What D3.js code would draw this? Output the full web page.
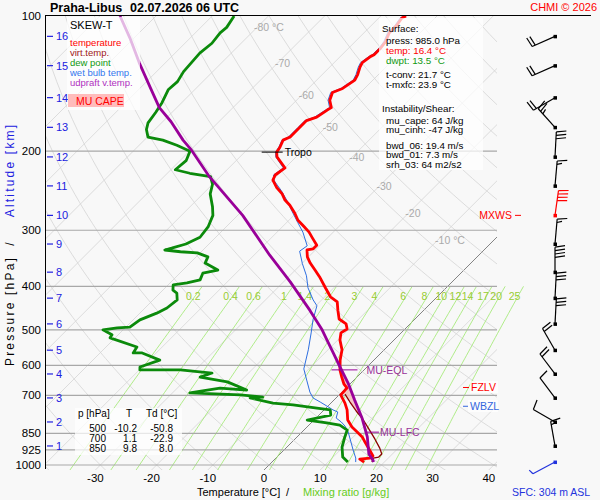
<!doctype html>
<html lang="en">
<head>
  <meta charset="utf-8">
  <title>Praha-Libus skew-T</title>
  <style>
    body { margin: 0; background: #f8f8f8; }
    svg { font-family: "Liberation Sans", Arial, sans-serif; display: block; }
  </style>
</head>
<body>
  <div id="chart"></div>
  <script src="https://cdn.jsdelivr.net/npm/d3@7"></script>
  <script>
// sounding: pressure [hPa] / temperature [C]
var tempP = [985,970,965,955,912,889,866,844,823,794,754,728,709,698,681,674,660,637,614,584,
  554,527,508,498,493,485,473,452,433,422,403,383,368,355,344,332,330,324,312,303,
  294,285,275,264,257,249,241,232,226,218,206,201,196,189,186,177,171,168,162,160,
  154,148,145,139,135,130,127,123,122,118,114,109,105,101,100];
var tempT = [16.4,15.1,16.7,16.9,14.4,13.0,11.6,9.8,8.0,6.0,4.1,2.5,1.1,0.3,0.2,0.2,-1.1,-2.7,-4.3,-6.0,
  -7.5,-9.6,-10.7,-10.3,-10.7,-11.4,-13.5,-15.3,-16.9,-19.0,-21.5,-24.2,-26.5,-28.6,-30.2,-31.5,-30.6,-30.6,-32.7,-34.3,
  -36.3,-38.4,-40.2,-42.5,-44.3,-45.9,-48.0,-50.0,-50.5,-50.0,-53.4,-54.3,-54.6,-55.3,-54.6,-54.6,-54.6,-53.4,-52.8,-52.5,
  -54.1,-55.0,-53.9,-53.2,-53.7,-54.6,-55.0,-54.6,-54.3,-54.3,-54.6,-55.5,-55.5,-55.9,-55.5];

var wbP = [985,965,926,889,844,819,802,786,762,754,739,724,709,688,647,611,554,508,475,442,
  429,403,379,356,334,325,303,288,273,257,245,233,226,218,206,201,196,189,186,177,
  171,168,162,160,154,148,145,139,135,130,127,123,122,118,114,109,105,101,100];
var wbT = [14.9,14.2,12.3,10.5,8.2,6.6,5.2,3.6,2.8,1.6,-0.2,-2.1,-4.1,-5.7,-8.4,-10.9,-13.5,-16.0,-18.0,-19.8,
  -21.5,-24.6,-27.0,-29.9,-32.6,-32.2,-35.4,-38.1,-40.9,-44.0,-46.6,-49.6,-50.8,-50.3,-53.6,-54.5,-54.8,-55.5,-54.9,-54.9,
  -54.9,-53.8,-53.1,-52.8,-54.4,-55.3,-54.2,-53.5,-54.0,-54.9,-55.3,-54.9,-54.6,-54.6,-54.9,-55.8,-55.8,-56.2,-55.8];

var dewP = [100,106,109,115,121,127,133,140,146,156,164,173,179,186,189,194,200,210,220,224,
  228,237,249,266,278,295,311,322,329,332,335,337,344,355,368,374,387,393,397,408,
  414,429,447,459,475,493,495,500,513,521,546,563,563,584,605,614,614,624,637,653,
  681,674,691,698,706,709,728,735,747,754,774,794,806,815,836,866,912,960,985];
var dewT = [-86.1,-85.4,-85.6,-85.2,-85.6,-85.4,-85.2,-84.5,-84.7,-83.5,-82.9,-82.4,-81.5,-79.9,-76.7,-73.3,-69.9,-68.9,-69.2,-66.0,
  -61.7,-60.0,-58.7,-56.0,-54.4,-53.2,-52.8,-54.1,-55.9,-56.8,-53.7,-50.5,-47.9,-47.3,-43.8,-45.9,-45.2,-47.0,-49.1,-48.2,
  -47.0,-45.7,-46.1,-47.0,-48.8,-49.3,-51.4,-53.6,-51.1,-50.9,-44.5,-44.1,-42.5,-38.1,-40.4,-39.9,-32.7,-26.5,-27.9,-22.2,
  -17.3,-22.4,-26.9,-17.6,-13.2,-15.3,-10.3,-6.4,-1.6,1.1,2.1,-1.2,2.8,5.5,7.7,8.5,9.8,11.7,13.5];

var virtP = [985,965,960,945,917,875,832,790,758,724,695];
var virtT = [17.8,17.3,18.1,18.1,16.7,14.2,11.4,8.5,5.9,3.2,0.9];

var parcelP = [985,975,945,866,786,717,657,605,563,527,500,452,391,341,278,228,199,189,172,160,144,127,112,100];
var parcelT = [18.1,17.6,15.8,12.5,8.2,3.7,-0.5,-4.8,-8.5,-11.9,-14.6,-20.3,-28.8,-37.2,-49.1,-61.9,-69.8,-73.1,-78.5,-83.1,-88.4,-94.7,-100.7,-106.4];

// axes
var pTicks = [100,200,300,400,500,600,700,850,925,1000];
var tTicks = [-30,-20,-10,0,10,20,30,40];
var isoLabelT = [-80,-70,-60,-50,-40,-30,-20,-10];
var isoLabelP = [106,127,150,177,206,239,275,315];
var mixRatios = [0.2,0.4,0.6,1,1.4,2,3,4,6,8,10,12,14,17,20,25];
var kmLabels = [1,2,3,4,5,6,7,8,9,10,11,12,13,14,15,16];
var kmP = [907,802,709,627,555,485,425,372,322,278,239,206,177,152,129,111];

// wind (SFC then each km), direction [deg], speed [kt]
var windP = [985,907,802,709,627,555,485,425,372,322,278,239,206,177,152,129,111];
var windDir = [242,350,300,323,323,330,3,3,0,5,8,5,3,318,240,246,246];
var windSpd = [5,15,10,10,20,20,30,30,40,15,40,15,30,25,20,20,20];
var mxwsIndex = 10;

// levels and summary values
var tropoP = 201, eqlP = 614, lfcP = 845, fzlvP = 672, wbzlP = 740;
var tableP = [500,700,850], tableT = [-10.2,1.1,9.8], tableTd = [-50.8,-22.9,8.0];
var surfLines = [
  ["Surface:", "#000", 0], ["press: 985.0 hPa", "#000", 1], ["temp: 16.4 °C", "#ff0000", 1],
  ["dwpt: 13.5 °C", "#119911", 1], ["t-conv: 21.7 °C", "#000", 1], ["t-mxfc: 23.9 °C", "#000", 1],
  ["Instability/Shear:", "#000", 0], ["mu_cape: 64 J/kg", "#000", 1], ["mu_cinh: -47 J/kg", "#000", 1],
  ["bwd_06: 19.4 m/s", "#000", 1], ["bwd_01: 7.3 m/s", "#000", 1], ["srh_03: 64 m2/s2", "#000", 1]];
var surfLineY = [31.5,43.5,53.5,63.5,77.5,87.5,111.5,123.5,133,148.5,158,167.8];
var legendNames = ["temperature","virt.temp.","dew point","wet bulb temp.","udpraft v.temp."];
var legendColors = ["#ff0000","#a01818","#119911","#3377ee","#b030c0"];

(function(){
  var width = 600, height = 500;
  var pBot = 1026;

  var y = d3.scaleLog().domain([pBot, 100]).range([470, 16]);
  var xT = d3.scaleLinear().domain([0, 10]).range([264, 320.2]);
  function sx(t, p) { return xT(t) + (470 - y(p)); }

  function interp(P, T, p) {
    for (var i = 0; i < P.length - 1; i++) {
      var a = P[i], b = P[i + 1];
      if ((p <= a && p >= b) || (p >= a && p <= b)) {
        if (a == b) return T[i];
        var f = Math.log(a / p) / Math.log(a / b);
        return T[i] + f * (T[i + 1] - T[i]);
      }
    }
    return NaN;
  }
  function mixTd(w, p) {
    var e = w * p / (622 + w), l = Math.log(e / 6.112);
    return 243.5 * l / (17.67 - l);
  }

  var svg = d3.select("#chart").append("svg")
      .attr("width", width).attr("height", height);
  svg.append("rect").attr("width", width).attr("height", height).attr("fill", "#f8f8f8");

  var defs = svg.append("defs");
  defs.append("clipPath").attr("id", "plotClip").append("rect")
      .attr("x", 45).attr("y", 15).attr("width", 452).attr("height", 455);
  defs.append("clipPath").attr("id", "mixClip").append("rect")
      .attr("x", 45).attr("y", 15).attr("width", 500).attr("height", 455);

  var line = d3.line().x(function(d){ return sx(d[1], d[0]); }).y(function(d){ return y(d[0]); });
  function zip(P, T) { return P.map(function(p, i){ return [p, T[i]]; }); }

  // grid: isotherms and dry adiabats
  var grid = svg.append("g").attr("clip-path", "url(#plotClip)");
  d3.range(-170, 50, 10).forEach(function(t){
    grid.append("line")
        .attr("x1", sx(t, pBot)).attr("y1", y(pBot))
        .attr("x2", sx(t, 98)).attr("y2", y(98))
        .attr("stroke", t === 0 ? "#666" : "#d4d4d4")
        .attr("stroke-width", 0.8);
  });
  var adiaP = d3.range(1030, 95, -10);
  d3.range(-60, 220, 10).forEach(function(t0){
    var pts = adiaP.map(function(p){ return [p, (t0 + 273.15) * Math.pow(p / 1000, 0.2857) - 273.15]; });
    grid.append("path").attr("d", line(pts))
        .attr("fill", "none").attr("stroke", "#d4d4d4").attr("stroke-width", 0.8);
  });

  // mixing ratio lines
  var mix = svg.append("g").attr("clip-path", "url(#mixClip)");
  var mixP = d3.range(1030, 399, -10).concat([400]);
  mixRatios.forEach(function(w){
    var pts = mixP.map(function(p){ return [p, mixTd(w, p)]; });
    mix.append("path").attr("d", line(pts))
        .attr("fill", "none").attr("stroke", "#9de86c").attr("stroke-width", 0.8);
    svg.append("text")
        .attr("x", sx(mixTd(w, 400), 400) - 9).attr("y", y(400) + 13.5)
        .attr("text-anchor", "middle").attr("font-size", "10.5px").attr("fill", "#99cc33")
        .text(String(w));
  });

  // isobars
  pTicks.forEach(function(p){
    if (p === 100) return;
    svg.append("line").attr("x1", 45).attr("x2", 497).attr("y1", y(p)).attr("y2", y(p))
        .attr("stroke", "#a8a8a8").attr("stroke-width", 1.2);
  });

  // isotherm labels
  isoLabelT.forEach(function(t, i){
    var p = isoLabelP[i];
    svg.append("text").attr("x", sx(t, p) - 3).attr("y", y(p) + 4)
        .attr("font-size", "10.5px").attr("fill", "#aaaaaa")
        .text(t + ((t === -80 || t === -10) ? " °C" : ""));
  });

  // CAPE area between parcel and environmental virtual temperature
  function envT(p) { return p >= 695 ? interp(virtP, virtT, p) : interp(tempP, tempT, p); }
  var capeP = d3.range(lfcP - 70, eqlP - 10, -1);
  var area = d3.area()
      .y(function(p){ return y(p); })
      .x0(function(p){ return sx(envT(p), p); })
      .x1(function(p){ return sx(Math.max(envT(p), interp(parcelP, parcelT, p)), p); });
  svg.append("path").attr("d", area(capeP)).attr("fill", "#f6bcbc").attr("opacity", 0.85);

  // profiles
  var prof = svg.append("g").attr("clip-path", "url(#plotClip)").attr("fill", "none")
      .attr("stroke-linejoin", "round");
  prof.append("path").attr("d", line(zip(wbP, wbT))).attr("stroke", "#2e6fe0").attr("stroke-width", 1);
  prof.append("path").attr("d", line(zip(dewP, dewT))).attr("stroke", "#0b8a0b").attr("stroke-width", 2.8);
  prof.append("path").attr("d", line(zip(virtP, virtT))).attr("stroke", "#8b0000").attr("stroke-width", 1.3);
  prof.append("path").attr("d", line(zip(tempP, tempT))).attr("stroke", "#ff0000").attr("stroke-width", 2.8);
  prof.append("path").attr("d", line(zip(parcelP, parcelT))).attr("stroke", "#990099").attr("stroke-width", 2.8);

  // frame
  svg.append("line").attr("x1", 45).attr("x2", 591).attr("y1", 15.5).attr("y2", 15.5).attr("stroke", "#000");
  svg.append("line").attr("x1", 45.5).attr("x2", 45.5).attr("y1", 15).attr("y2", 469).attr("stroke", "#000");

  // semi-transparent boxes
  function box(x, yy, w, h) {
    svg.append("rect").attr("x", x).attr("y", yy).attr("width", w).attr("height", h)
        .attr("fill", "#fff").attr("opacity", 0.72);
  }
  box(67, 17, 73, 93);
  box(379, 18, 104, 152);
  box(75, 408, 107, 47);
  box(470, 381, 28, 12);
  box(468, 400, 30, 12);

  // pressure axis
  pTicks.forEach(function(p){
    svg.append("text").attr("x", 41).attr("y", y(p) + 4).attr("text-anchor", "end")
        .attr("font-size", "11.5px").attr("fill", "#000").text(p);
  });
  kmLabels.forEach(function(k, i){
    var yy = y(kmP[i]);
    svg.append("line").attr("x1", 47).attr("x2", 53).attr("y1", yy).attr("y2", yy)
        .attr("stroke", "#2020e0").attr("stroke-width", 1.2);
    svg.append("text").attr("x", 56).attr("y", yy + 4).attr("font-size", "11px")
        .attr("fill", "#2020e0").text(k);
  });
  tTicks.forEach(function(t){
    svg.append("text").attr("x", xT(t)).attr("y", 482).attr("text-anchor", "middle")
        .attr("font-size", "11.5px").attr("fill", "#000").text(t);
  });

  // axis titles
  svg.append("text").attr("x", 197).attr("y", 496).attr("font-size", "11px").text("Temperature [°C]");
  svg.append("text").attr("x", 286).attr("y", 496).attr("font-size", "11px").text("/");
  svg.append("text").attr("x", 303).attr("y", 496).attr("font-size", "11px").attr("fill", "#66cc22")
      .text("Mixing ratio [g/kg]");
  var vt = svg.append("g").attr("font-size", "12px").attr("letter-spacing", "2.2px").attr("text-anchor", "middle");
  vt.append("text").attr("transform", "translate(14,311) rotate(-90)").text("Pressure [hPa]");
  vt.append("text").attr("transform", "translate(14,243) rotate(-90)").text("/");
  vt.append("text").attr("transform", "translate(14,170) rotate(-90)").attr("fill", "#2020e0").text("Altitude [km]");

  // titles
  svg.append("text").attr("x", 50).attr("y", 12).attr("font-size", "12.5px").attr("font-weight", "bold").text("Praha-Libus");
  svg.append("text").attr("x", 130).attr("y", 12).attr("font-size", "12.5px").attr("font-weight", "bold").text("02.07.2026 06 UTC");
  svg.append("text").attr("x", 597).attr("y", 11).attr("text-anchor", "end").attr("font-size", "11px")
      .attr("fill", "#ff0000").text("CHMI © 2026");

  // legend
  svg.append("text").attr("x", 70).attr("y", 29).attr("font-size", "11px").text("SKEW-T");
  legendNames.forEach(function(n, i){
    svg.append("text").attr("x", 70).attr("y", 45.5 + i * 10).attr("font-size", "9.5px")
        .attr("fill", legendColors[i]).text(n);
  });
  svg.append("rect").attr("x", 68).attr("y", 94).attr("width", 56).attr("height", 13).attr("fill", "#ffbcbc");
  svg.append("text").attr("x", 76).attr("y", 104.5).attr("font-size", "10.5px").attr("fill", "#ff0000").text("MU CAPE");

  // surface / instability panel
  surfLines.forEach(function(l, i){
    svg.append("text").attr("x", l[2] ? 386 : 382).attr("y", surfLineY[i])
        .attr("font-size", "9.8px").attr("fill", l[1]).text(l[0]);
  });

  // table
  var tb = svg.append("g").attr("font-size", "10px");
  tb.append("text").attr("x", 78).attr("y", 417).text("p [hPa]");
  tb.append("text").attr("x", 126).attr("y", 417).text("T");
  tb.append("text").attr("x", 146).attr("y", 417).text("Td [°C]");
  tableP.forEach(function(p, i){
    var yy = 431.5 + i * 10;
    tb.append("text").attr("x", 106).attr("y", yy).attr("text-anchor", "end").text(p);
    tb.append("text").attr("x", 137).attr("y", yy).attr("text-anchor", "end").text(tableT[i].toFixed(1));
    tb.append("text").attr("x", 173).attr("y", yy).attr("text-anchor", "end").text(tableTd[i].toFixed(1));
  });

  // tropopause, EQL, LFC
  var tx = sx(interp(tempP, tempT, tropoP), tropoP), ty = y(tropoP);
  svg.append("line").attr("x1", tx - 15).attr("x2", tx + 6).attr("y1", ty).attr("y2", ty).attr("stroke", "#000");
  svg.append("text").attr("x", tx + 8).attr("y", ty + 4).attr("font-size", "10.5px").text("Tropo");
  var ex = sx(interp(parcelP, parcelT, eqlP), eqlP), ey = y(eqlP);
  svg.append("line").attr("x1", ex - 10).attr("x2", ex + 16).attr("y1", ey).attr("y2", ey).attr("stroke", "#990099");
  svg.append("text").attr("x", ex + 25).attr("y", ey + 4).attr("font-size", "10.5px").attr("fill", "#993399").text("MU-EQL");
  var lx = sx(interp(parcelP, parcelT, lfcP), lfcP), ly = y(lfcP);
  svg.append("line").attr("x1", lx - 1).attr("x2", lx + 13).attr("y1", ly).attr("y2", ly).attr("stroke", "#990099");
  svg.append("text").attr("x", lx + 14).attr("y", ly + 4).attr("font-size", "10.5px").attr("fill", "#993399").text("MU-LFC");

  // level markers on the right
  var fy = y(fzlvP), wy = y(wbzlP), my = y(windP[mxwsIndex]);
  svg.append("line").attr("x1", 463).attr("x2", 469).attr("y1", fy).attr("y2", fy).attr("stroke", "#ff0000");
  svg.append("text").attr("x", 471).attr("y", fy + 4).attr("font-size", "10.5px").attr("fill", "#ff0000").text("FZLV");
  svg.append("line").attr("x1", 463).attr("x2", 468).attr("y1", wy).attr("y2", wy).attr("stroke", "#3366dd");
  svg.append("text").attr("x", 470).attr("y", wy + 4).attr("font-size", "10.5px").attr("fill", "#3366dd").text("WBZL");
  svg.append("line").attr("x1", 515).attr("x2", 521).attr("y1", my).attr("y2", my).attr("stroke", "#ff0000");
  svg.append("text").attr("x", 512).attr("y", my + 4).attr("text-anchor", "end").attr("font-size", "10.5px")
      .attr("fill", "#ff0000").text("MXWS");

  // wind barbs
  var wg = svg.append("g");
  function barb(cx, cy, dir, spd, col) {
    var a = dir * Math.PI / 180, ux = Math.sin(a), uy = -Math.cos(a);
    var px = -uy, py = ux, L = 25, step = 3.4, len = 10;
    wg.append("line").attr("x1", cx).attr("y1", cy).attr("x2", cx + ux * L).attr("y2", cy + uy * L)
        .attr("stroke", col).attr("stroke-width", 1.2);
    var full = Math.floor(spd / 10), half = (spd % 10) >= 5, d = L;
    function tick(dd, ll) {
      var bx = cx + ux * dd, by = cy + uy * dd;
      wg.append("line").attr("x1", bx).attr("y1", by)
          .attr("x2", bx + px * ll + ux * 1.5).attr("y2", by + py * ll + uy * 1.5)
          .attr("stroke", col).attr("stroke-width", 1.2);
    }
    for (var i = 0; i < full; i++) { tick(d, len); d -= step; }
    if (half) tick(d, len / 2);
    wg.append("rect").attr("x", cx - 1.5).attr("y", cy - 1.5).attr("width", 3.5).attr("height", 3.5).attr("fill", col);
  }
  windP.forEach(function(p, i){
    var col = i === 0 ? "#2233dd" : (i === mxwsIndex ? "#ff0000" : "#000");
    barb(555, y(p), windDir[i], windSpd[i], col);
  });
  svg.append("text").attr("x", 512).attr("y", 495.5).attr("font-size", "10.5px").attr("fill", "#2233dd")
      .text("SFC: 304 m ASL");
})();
  </script>
</body>
</html>
